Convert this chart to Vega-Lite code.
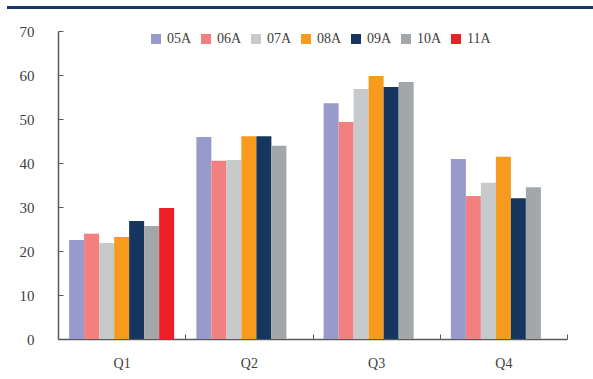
{
  "$schema": "https://vega.github.io/schema/vega-lite/v6.json",
  "padding": {"left": 7, "top": 0, "right": 0, "bottom": 0},
  "background": "white",
  "bounds": "flush",
  "center": true,
  "spacing": 23,
  "config": {
    "font": "Liberation Serif",
    "view": {"stroke": null}
  },
  "vconcat": [
    {
      "width": 609,
      "height": 1,
      "view": {"stroke": "#1a3668", "strokeWidth": 2, "fill": "#1a3668"},
      "data": {"values": [{"t": ""}]},
      "mark": {"type": "text"},
      "encoding": {"text": {"field": "t"}}
    },
    {
      "width": 509,
      "height": 308,
      "data": {
        "values": [
          {"quarter": "Q1", "series": "05A", "value": 22.5},
          {"quarter": "Q1", "series": "06A", "value": 23.9},
          {"quarter": "Q1", "series": "07A", "value": 21.8},
          {"quarter": "Q1", "series": "08A", "value": 23.2},
          {"quarter": "Q1", "series": "09A", "value": 26.8},
          {"quarter": "Q1", "series": "10A", "value": 25.7},
          {"quarter": "Q1", "series": "11A", "value": 29.8},
          {"quarter": "Q2", "series": "05A", "value": 45.9},
          {"quarter": "Q2", "series": "06A", "value": 40.5},
          {"quarter": "Q2", "series": "07A", "value": 40.7},
          {"quarter": "Q2", "series": "08A", "value": 46.1},
          {"quarter": "Q2", "series": "09A", "value": 46.1},
          {"quarter": "Q2", "series": "10A", "value": 43.9},
          {"quarter": "Q3", "series": "05A", "value": 53.6},
          {"quarter": "Q3", "series": "06A", "value": 49.3},
          {"quarter": "Q3", "series": "07A", "value": 56.8},
          {"quarter": "Q3", "series": "08A", "value": 59.8},
          {"quarter": "Q3", "series": "09A", "value": 57.3},
          {"quarter": "Q3", "series": "10A", "value": 58.4},
          {"quarter": "Q4", "series": "05A", "value": 40.9},
          {"quarter": "Q4", "series": "06A", "value": 32.5},
          {"quarter": "Q4", "series": "07A", "value": 35.5},
          {"quarter": "Q4", "series": "08A", "value": 41.4},
          {"quarter": "Q4", "series": "09A", "value": 32.0},
          {"quarter": "Q4", "series": "10A", "value": 34.5}
        ]
      },
      "mark": {"type": "bar"},
      "encoding": {
        "x": {
          "field": "quarter",
          "type": "nominal",
          "scale": {"paddingInner": 0, "paddingOuter": 0},
          "axis": {
            "title": null,
            "labelAngle": 0,
            "labelFontSize": 14,
            "labelColor": "#404040",
            "labelPadding": 22,
            "domainColor": "#595959",
            "domainWidth": 1.5,
            "tickColor": "#595959",
            "tickBand": "extent",
            "tickSize": -5,
            "tickWidth": 1
          }
        },
        "xOffset": {
          "field": "series",
          "type": "nominal",
          "scale": {
            "domain": ["05A", "06A", "07A", "08A", "09A", "10A", "11A"],
            "paddingInner": 0,
            "paddingOuter": 0.74
          }
        },
        "y": {
          "field": "value",
          "type": "quantitative",
          "scale": {"domain": [0, 70], "nice": false},
          "axis": {
            "title": null,
            "values": [0, 10, 20, 30, 40, 50, 60, 70],
            "grid": false,
            "labelFontSize": 15,
            "labelColor": "#404040",
            "labelPadding": 29,
            "domainColor": "#595959",
            "domainWidth": 1.5,
            "tickColor": "#595959",
            "tickSize": -5,
            "tickWidth": 1
          }
        },
        "color": {
          "field": "series",
          "type": "nominal",
          "scale": {
            "domain": ["05A", "06A", "07A", "08A", "09A", "10A", "11A"],
            "range": ["#9999cc", "#f28080", "#c8c9cb", "#f79a1e", "#17365f", "#a4a7aa", "#ee2027"]
          },
          "legend": {
            "title": null,
            "orient": "none",
            "legendX": 141,
            "legendY": 25,
            "direction": "horizontal",
            "columns": 7,
            "symbolType": "square",
            "symbolSize": 100,
            "symbolStrokeWidth": 0,
            "symbolOpacity": 1,
            "labelFontSize": 14,
            "labelColor": "#404040",
            "labelOffset": 4,
            "columnPadding": 7
          }
        }
      }
    }
  ]
}
